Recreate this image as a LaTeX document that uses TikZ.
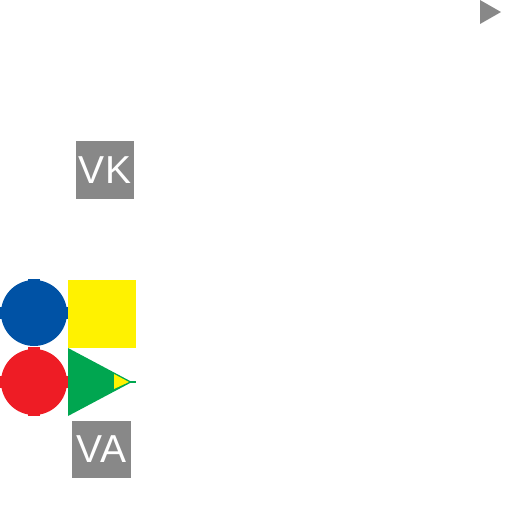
\documentclass[tikz,border=0pt]{standalone}
\usepackage{fontspec}
\setmainfont{Liberation Sans}
\definecolor{boxgray}{HTML}{888888}
\definecolor{cblue}{HTML}{0052A5}
\definecolor{cred}{HTML}{EE1C25}
\definecolor{cyellow}{HTML}{FFF200}
\definecolor{cgreen}{HTML}{00A650}
\tikzset{label box/.style={fill=boxgray,text=white,inner sep=0pt,
    minimum width=58pt,minimum height=58pt,font=\fontsize{39}{39}\selectfont}}
\begin{document}
\begin{tikzpicture}[x=1pt,y=-1pt]
\useasboundingbox (0,0) rectangle (512,512);
% pointer top right
\fill[boxgray] (480,0) -- (501,12) -- (480,24) -- cycle;
% labels
\node[label box] (vk) at (105,170) {VK};
\node[label box,minimum width=59pt,minimum height=57pt] (va) at (101.5,449.5) {VA};
% blue circle with knobs
\fill[cblue] (34,313) circle (33);
\fill[cblue] (28,279) rectangle (40,284);
\fill[cblue] (0,307) rectangle (4,319);
\fill[cblue] (64,307) rectangle (68,319);
% red circle with knobs
\fill[cred] (34,382) circle (33);
\fill[cred] (28,347) rectangle (40,352);
\fill[cred] (0,376) rectangle (4,388);
\fill[cred] (64,376) rectangle (68,388);
\fill[cred] (28,412) rectangle (40,416);
% yellow square
\fill[cyellow] (68,280) rectangle (136,348);
% green triangle with yellow tip
\fill[cgreen] (68,348) -- (132,382) -- (68,416) -- cycle;
\draw[cgreen,line width=1.5] (126,382) -- (136,382);
\fill[cyellow] (114,374) -- (129,382) -- (114,389) -- cycle;
\end{tikzpicture}
\end{document}
